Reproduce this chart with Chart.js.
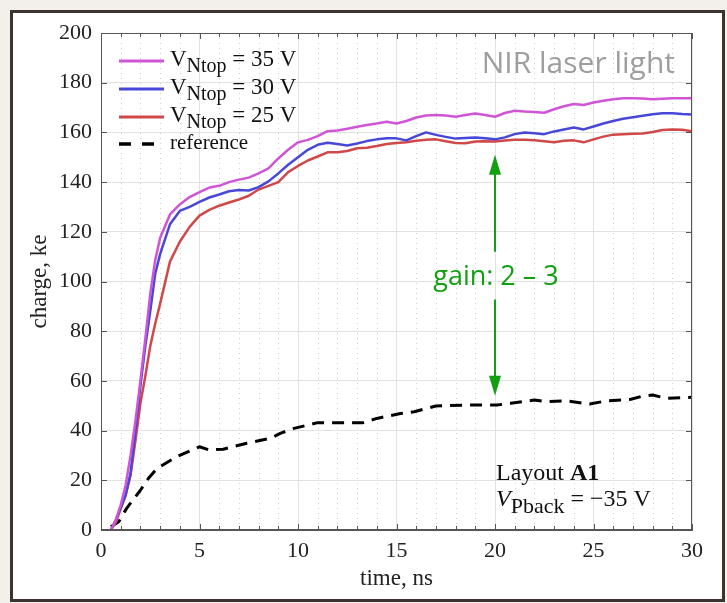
<!DOCTYPE html>
<html>
<head>
<meta charset="utf-8">
<script src="https://cdn.jsdelivr.net/npm/chart.js@4"></script>
<style>
    html, body { margin: 0; padding: 0; background: #f3f0ec; }
    .frame {
        position: absolute; left: 10px; top: 10px; width: 715px; height: 592px;
        box-sizing: border-box; border: 3px solid #3c3230; background: #fff;
    }
    .wrap { position: absolute; left: 0; top: 0; width: 727px; height: 603px; }
</style>
</head>
<body>
<div class="frame"></div>
<div class="wrap"><canvas id="chart" width="727" height="603"></canvas></div>
<script>
// time axis (ns) shared by the three V_Ntop curves
const time = [0.5, 0.75, 1, 1.25, 1.5, 1.75, 2, 2.25, 2.5, 2.75, 3, 3.5, 4, 4.5, 5, 5.5, 6, 6.5, 7, 7.5,
    8, 8.5, 9, 9.5, 10, 10.5, 11, 11.5, 12, 12.5, 13, 13.5, 14, 14.5, 15, 15.5, 16, 16.5, 17, 17.5,
    18, 18.5, 19, 19.5, 20, 20.5, 21, 21.5, 22, 22.5, 23, 23.5, 24, 24.5, 25, 25.5, 26, 26.5, 27, 27.5,
    28, 28.5, 29, 29.5, 30];

const v35 = [0, 4, 10, 18, 30, 44, 60, 77, 95, 108.5, 117.5, 127, 131, 134, 136, 137.8, 138.5, 140, 141, 141.8,
    143.5, 145.5, 149.5, 153, 156, 157, 158.5, 160.5, 160.8, 161.5, 162.3, 163, 163.6, 164.3, 163.6, 164.6, 166, 166.8, 167, 166.8,
    166.3, 167, 167.6, 167, 166.3, 167.8, 168.7, 168.4, 168.2, 167.9, 169.3, 170.5, 171.4, 171, 172, 172.7, 173.3, 173.7, 173.7, 173.6,
    173.3, 173.5, 173.7, 173.7, 173.7];

const v30 = [0, 4, 9, 14, 23, 40, 58, 74, 88, 103, 111, 123, 128.4, 130, 132, 133.8, 135, 136.3, 136.8, 136.6,
    138, 140.3, 143.5, 147, 150, 153, 155, 155.8, 155.3, 154.7, 155.5, 156.5, 157.2, 157.6, 157.6, 156.8, 158.5, 160, 159, 158.2,
    157.5, 157.7, 157.9, 157.6, 157.2, 158, 159.3, 160, 159.7, 159.3, 160.4, 161.2, 162, 161.2, 162.4, 163.6, 164.6, 165.5, 166.1, 166.7,
    167.3, 167.7, 167.7, 167.4, 167.2];

const v25 = [0, 3, 8.5, 14, 22, 36, 51, 62, 74, 83, 91, 108, 116, 122, 126.5, 128.8, 130.5, 131.8, 133, 134.5,
    137, 138.5, 140, 144, 146.5, 148.7, 150.3, 152, 152, 152.5, 153.6, 153.8, 154.5, 155.3, 155.7, 156, 156.6, 157, 157.2, 156.4,
    155.7, 155.6, 156.3, 156.4, 156.3, 156.7, 157, 157, 156.8, 156.4, 156, 156.6, 156.8, 156, 157.2, 158.3, 159.1, 159.3, 159.5, 159.6,
    160.2, 161, 161.2, 161.1, 160.5];

// reference curve has its own sampling
const refTime = [0.5, 0.9, 1.3, 2, 2.4, 2.85, 3.85, 5, 5.5, 6.2, 7.4, 8.6, 9.1, 9.8, 11, 13.3, 14, 15.2, 15.9,
    17, 18.6, 20.1, 20.8, 22, 22.6, 23.6, 24.8, 25.7, 26.9, 27.4, 28, 28.7, 30];
const refValues = [1.3, 3.3, 8.7, 16, 20.7, 24.8, 29.5, 33.5, 32.2, 32.5, 34.9, 36.9, 38.9, 40.9, 43.2, 43.2, 44.9, 46.9, 47.6,
    49.9, 50.3, 50.3, 51, 52.3, 51.6, 52, 50.7, 52, 52.6, 53.7, 54.3, 53, 53.4];

const xTicks = [0, 5, 10, 15, 20, 25, 30];
const yTicks = [0, 20, 40, 60, 80, 100, 120, 140, 160, 180, 200];

const seriesNames = ['35', '30', '25'];
const colors = ['#cf55d6', '#4848d8', '#d04848'];

// annotation values (data units)
const gainX = 20;
const gainUpper = [151, 112];
const gainLower = [92.8, 54];
const gainTextY = 101.5;

const SERIF = '"Liberation Serif", "Times New Roman", serif';
const SANS = '"Open Sans", "Noto Sans", sans-serif';

function pts(xs, ys) {
    return xs.map((x, i) => ({ x: x, y: ys[i] }));
}

function richText(ctx, x, y, parts) {
    let cx = x;
    parts.forEach(p => {
        ctx.font = p.font;
        ctx.fillText(p.text, cx, y + (p.dy || 0));
        cx += ctx.measureText(p.text).width;
    });
}

const decorations = {
    id: 'decorations',
    beforeDatasetsDraw(chart) {
        const { ctx, chartArea: a, scales: { x } } = chart;
        ctx.save();
        ctx.strokeStyle = '#cfcfcf';
        ctx.lineWidth = 1;
        ctx.setLineDash([1, 4]);
        for (let t = 1; t < 30; t++) {
            if (t % 5 === 0) continue;
            const px = Math.round(x.getPixelForValue(t)) + 0.5;
            ctx.beginPath();
            ctx.moveTo(px, a.top);
            ctx.lineTo(px, a.bottom);
            ctx.stroke();
        }
        ctx.restore();
    },
    afterDatasetsDraw(chart) {
        const { ctx, chartArea: a, scales: { x, y } } = chart;
        ctx.save();
        ctx.strokeStyle = '#555';
        ctx.lineWidth = 1;
        ctx.strokeRect(a.left + 0.5, a.top + 0.5, a.right - a.left - 1, a.bottom - a.top - 1);
        // inward ticks
        ctx.beginPath();
        for (let t = 0; t <= 30; t++) {
            const px = Math.round(x.getPixelForValue(t)) + 0.5;
            const len = t % 5 === 0 ? 6 : 4;
            ctx.moveTo(px, a.bottom); ctx.lineTo(px, a.bottom - len);
            ctx.moveTo(px, a.top); ctx.lineTo(px, a.top + len);
        }
        yTicks.forEach(v => {
            const py = Math.round(y.getPixelForValue(v)) + 0.5;
            ctx.moveTo(a.left, py); ctx.lineTo(a.left + 6, py);
            ctx.moveTo(a.right, py); ctx.lineTo(a.right - 6, py);
        });
        ctx.stroke();
        ctx.restore();
    },
    afterDraw(chart) {
        const { ctx, scales: { x, y } } = chart;
        ctx.save();

        // legend
        const lx0 = 119, lx1 = 164, tx = 170;
        const rows = [61, 89, 117];
        ctx.lineWidth = 3;
        ctx.fillStyle = '#111';
        ctx.textBaseline = 'alphabetic';
        rows.forEach((ry, i) => {
            ctx.strokeStyle = colors[i];
            ctx.setLineDash([]);
            ctx.beginPath();
            ctx.moveTo(lx0, ry); ctx.lineTo(lx1, ry);
            ctx.stroke();
            richText(ctx, tx, ry + 5, [
                { text: 'V', font: '23px ' + SERIF },
                { text: 'Ntop', font: '20px ' + SERIF, dy: 6 },
                { text: ' = ' + seriesNames[i] + ' V', font: '23px ' + SERIF }
            ]);
        });
        ctx.strokeStyle = '#000';
        ctx.lineWidth = 3.5;
        ctx.setLineDash([12, 11]);
        ctx.beginPath();
        ctx.moveTo(lx0, 144); ctx.lineTo(lx1 - 8, 144);
        ctx.stroke();
        ctx.setLineDash([]);
        richText(ctx, tx, 149, [{ text: 'reference', font: '21px ' + SERIF }]);

        // title-like label
        ctx.fillStyle = '#9e9e9e';
        ctx.font = '30px ' + SANS;
        ctx.textAlign = 'right';
        ctx.fillText('NIR laser light', 675, 73);
        ctx.textAlign = 'left';

        // gain annotation
        const gx = x.getPixelForValue(gainX);
        const green = '#12a012';
        ctx.strokeStyle = green;
        ctx.fillStyle = green;
        ctx.lineWidth = 2;
        const arrow = (from, to) => {
            const p0 = y.getPixelForValue(from);
            const p1 = y.getPixelForValue(to);
            const dir = Math.sign(p1 - p0);
            ctx.beginPath();
            ctx.moveTo(gx, p0);
            ctx.lineTo(gx, p1 - dir * 16);
            ctx.stroke();
            ctx.beginPath();
            ctx.moveTo(gx, p1);
            ctx.lineTo(gx - 6, p1 - dir * 20);
            ctx.lineTo(gx + 6, p1 - dir * 20);
            ctx.closePath();
            ctx.fill();
        };
        arrow(gainUpper[1], gainUpper[0]);
        arrow(gainLower[0], gainLower[1]);
        ctx.font = '27px ' + SANS;
        ctx.textAlign = 'center';
        ctx.textBaseline = 'middle';
        ctx.fillText('gain: 2 \u2013 3', gx + 1, y.getPixelForValue(gainTextY));

        // layout note
        ctx.fillStyle = '#111';
        ctx.textAlign = 'left';
        ctx.textBaseline = 'alphabetic';
        richText(ctx, 496, 480, [
            { text: 'Layout ', font: '24px ' + SERIF },
            { text: 'A1', font: 'bold 24px ' + SERIF }
        ]);
        richText(ctx, 496, 506, [
            { text: 'V', font: 'italic 24px ' + SERIF },
            { text: 'Pback', font: '22px ' + SERIF, dy: 7 },
            { text: ' = \u221235 V', font: '24px ' + SERIF }
        ]);
        ctx.restore();
    }
};

const ctx = document.getElementById('chart').getContext('2d');
new Chart(ctx, {
    type: 'line',
    data: {
        datasets: [
            { label: 'V35', data: pts(time, v35), borderColor: colors[0], borderWidth: 2.5 },
            { label: 'V30', data: pts(time, v30), borderColor: colors[1], borderWidth: 2.5 },
            { label: 'V25', data: pts(time, v25), borderColor: colors[2], borderWidth: 2.5 },
            { label: 'reference', data: pts(refTime, refValues), borderColor: '#000', borderWidth: 3, borderDash: [12, 8] }
        ]
    },
    options: {
        responsive: false,
        animation: false,
        events: [],
        layout: { padding: { top: 33, right: 35, left: 0, bottom: 0 } },
        elements: {
            point: { radius: 0 },
            line: { tension: 0, fill: false, borderJoinStyle: 'round', borderCapStyle: 'butt' }
        },
        plugins: { legend: { display: false }, tooltip: { enabled: false } },
        scales: {
            x: {
                type: 'linear', min: 0, max: 30,
                afterFit: s => { s.height = 73; },
                afterBuildTicks: s => { s.ticks = xTicks.map(v => ({ value: v })); },
                ticks: { color: '#222', padding: 8, maxRotation: 0, font: { family: SERIF, size: 22 } },
                grid: { color: '#e2e2e2', lineWidth: 1, drawTicks: false },
                border: { color: '#555' },
                title: { display: true, text: 'time, ns', color: '#222', padding: { top: 0, bottom: 10 }, font: { family: SERIF, size: 23 } }
            },
            y: {
                min: 0, max: 200,
                afterFit: s => { s.width = 101; },
                afterBuildTicks: s => { s.ticks = yTicks.map(v => ({ value: v })); },
                ticks: { color: '#222', padding: 9, font: { family: SERIF, size: 22 } },
                grid: { color: '#e2e2e2', lineWidth: 1, drawTicks: false },
                border: { color: '#555' },
                title: { display: true, text: 'charge, ke', color: '#222', padding: { top: 26, bottom: 0 }, font: { family: SERIF, size: 23 } }
            }
        }
    },
    plugins: [decorations]
});
</script>
</body>
</html>
